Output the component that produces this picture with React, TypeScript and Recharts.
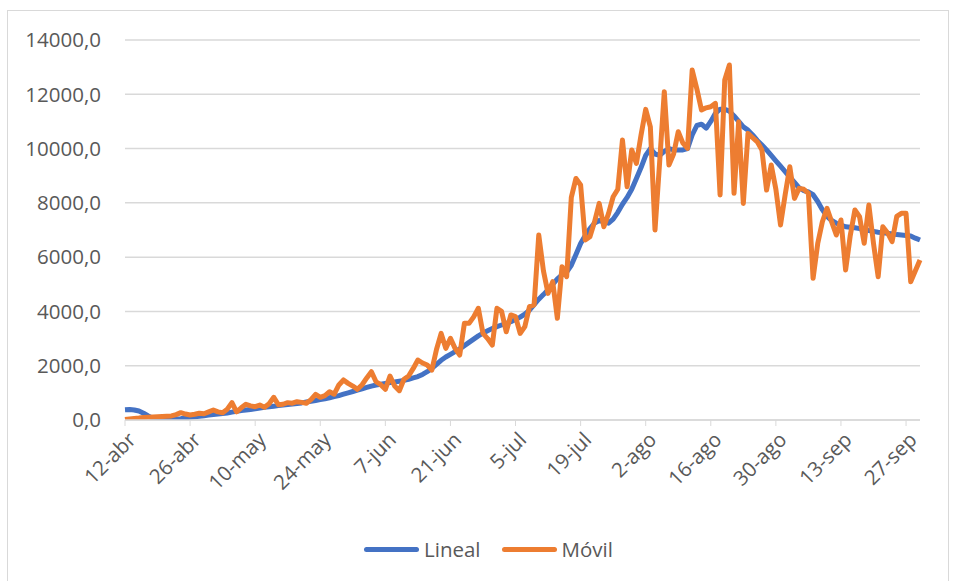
import React from 'react';
import { LineChart, Line, XAxis, YAxis, CartesianGrid, Legend } from 'recharts';

const monthNames = ['abr', 'may', 'jun', 'jul', 'ago', 'sep'];
const monthDays = [30, 31, 30, 31, 31, 30];

const tickLabels = ['12-abr', '26-abr', '10-may', '24-may', '7-jun', '21-jun', '5-jul', '19-jul', '2-ago', '16-ago', '30-ago', '13-sep', '27-sep'];
const yTicks = [0, 2000, 4000, 6000, 8000, 10000, 12000, 14000];

const lineal = [
  380, 390, 370, 330, 250, 150, 60, 20, 0, 0, 10, 30, 50, 80, 100, 120, 140, 160, 180, 200,
  220, 240, 260, 290, 320, 350, 370, 390, 410, 440, 470, 490, 510, 530, 550, 570, 590, 610, 630, 660,
  690, 720, 750, 780, 820, 860, 900, 950, 1000, 1050, 1100, 1150, 1200, 1250, 1290, 1320, 1350, 1380, 1400, 1430,
  1460, 1500, 1550, 1600, 1680, 1780, 1900, 2050, 2200, 2320, 2420, 2520, 2620, 2740, 2860, 2980, 3100, 3200, 3290, 3370,
  3440, 3500, 3560, 3620, 3700, 3790, 3900, 4050, 4250, 4450, 4620, 4800, 5000, 5200, 5350, 5450, 5700, 6100, 6500, 6800,
  7050, 7250, 7350, 7300, 7250, 7400, 7650, 7950, 8200, 8500, 8900, 9300, 9750, 10000, 9800, 9750, 9900, 10000, 9950, 9950,
  9950, 10000, 10500, 10850, 10900, 10750, 11000, 11300, 11450, 11450, 11380, 11200, 11000, 10800, 10680, 10500, 10300, 10130, 9950, 9750,
  9550, 9350, 9150, 8950, 8750, 8550, 8450, 8400, 8300, 8050, 7750, 7500, 7350, 7250, 7180, 7120, 7100, 7080, 7050, 7000,
  6980, 6950, 6920, 6900, 6880, 6850, 6830, 6815, 6800, 6780, 6700, 6630,
];

const movil = [
  20, 40, 60, 70, 90, 100, 110, 120, 130, 140, 150, 200, 270, 220, 185, 210, 250, 230, 300, 370,
  300, 270, 400, 640, 300, 450, 580, 520, 490, 550, 470, 600, 835, 560, 580, 640, 620, 675, 650, 615,
  750, 945, 835, 900, 1040, 950, 1290, 1475, 1350, 1250, 1130, 1300, 1550, 1780, 1410, 1300, 1130, 1620, 1250, 1080,
  1500, 1620, 1900, 2210, 2100, 2025, 1840, 2600, 3190, 2640, 3010, 2640, 2395, 3560, 3560, 3800, 4115, 3190, 3000, 2760,
  4115, 4000, 3250, 3870, 3810, 3190, 3440, 4175, 4240, 6815, 5500, 4665, 5095, 3745, 5650, 5280, 8200, 8900, 8660, 6630,
  6750, 7300, 7980, 7120, 7600, 8225, 8500, 10315, 8595, 9950, 9455, 10500, 11445, 10800, 7000, 9500, 12095, 9395, 9800, 10620,
  10200, 10010, 12895, 12200, 11420, 11500, 11540, 11665, 8290, 12525, 13080, 8350, 10990, 7980, 10560, 10400, 10250, 9950, 8470, 9395,
  8500, 7185, 8300, 9330, 8165, 8535, 8500, 8350, 5220, 6500, 7305, 7800, 7300, 6815, 7370, 5525, 6800, 7735, 7490, 6510,
  7920, 6500, 5280, 7120, 6900, 6570, 7500, 7615, 7615, 5095, 5500, 5895,
];

function buildDates(n: number): string[] {
  const out: string[] = [];
  let m = 0;
  let d = 12;
  for (let i = 0; i < n; i++) {
    out.push(`${d}-${monthNames[m]}`);
    d++;
    if (d > monthDays[m]) {
      d = 1;
      m++;
    }
  }
  return out;
}

const dates = buildDates(lineal.length);
const data = dates.map((date, i) => ({ date, Lineal: lineal[i], 'Móvil': movil[i] }));

const FONT = '"Open Sans", "Noto Sans", sans-serif';
const TEXT = '#595959';
const GRID = '#d9d9d9';
const FS = 20.5;

const XTick = (props: any) => {
  const { x, y, payload } = props;
  return (
    <g transform={`translate(${x + 7},${y + 9})`}>
      <text x={0} y={0} dy="0.35em" textAnchor="end" transform="rotate(-45)" fill={TEXT} fontSize={FS} fontFamily={FONT}>
        {payload.value}
      </text>
    </g>
  );
};

const LegendContent = (props: any) => {
  const { payload } = props;
  return (
    <div style={{ display: 'flex', alignItems: 'center', fontFamily: FONT, fontSize: FS, color: TEXT }}>
      {(payload || []).map((p: any, i: number) => (
        <div key={i} style={{ display: 'flex', alignItems: 'center', marginRight: i === 0 ? 21 : 0 }}>
          <div style={{ width: 55, height: 5, background: p.color, borderRadius: 2.5, marginRight: 5 }} />
          <span>{p.value}</span>
        </div>
      ))}
    </div>
  );
};

export default function App() {
  return (
    <div style={{ position: 'absolute', left: 0, top: 0, width: 955, height: 581, background: '#fff', overflow: 'hidden' }}>
      <div style={{ position: 'absolute', left: 7, top: 10, width: 940, height: 580, border: `1px solid ${GRID}` }} />
      <LineChart
        width={955}
        height={581}
        data={data}
        margin={{ top: 40, right: 35, bottom: 0, left: 25 }}
        style={{ position: 'absolute', left: 0, top: 0 }}
      >
        <CartesianGrid vertical={false} stroke={GRID} strokeWidth={1.5} />
        <XAxis
          dataKey="date"
          ticks={tickLabels}
          interval={0}
          tick={<XTick />}
          tickLine={{ stroke: GRID }}
          axisLine={{ stroke: GRID, strokeWidth: 1.5 }}
          tickSize={6}
          tickMargin={1}
          height={161}
        />
        <YAxis
          width={100}
          domain={[0, 14000]}
          ticks={yTicks}
          allowDataOverflow
          axisLine={false}
          tickLine={false}
          tickSize={0}
          tickMargin={24}
          tickFormatter={(v: number) => v.toFixed(1).replace('.', ',')}
          tick={{ fill: TEXT, fontSize: FS, fontFamily: FONT }}
        />
        <Legend
          layout="horizontal"
          verticalAlign="middle"
          align="center"
          content={<LegendContent />}
          wrapperStyle={{ top: 535, left: 364, width: 320 }}
        />
        <Line type="linear" dataKey="Lineal" stroke="#4472C4" strokeWidth={5} dot={false} isAnimationActive={false} strokeLinejoin="round" />
        <Line type="linear" dataKey="Móvil" stroke="#ED7D31" strokeWidth={5} dot={false} isAnimationActive={false} strokeLinejoin="round" />
      </LineChart>
    </div>
  );
}
